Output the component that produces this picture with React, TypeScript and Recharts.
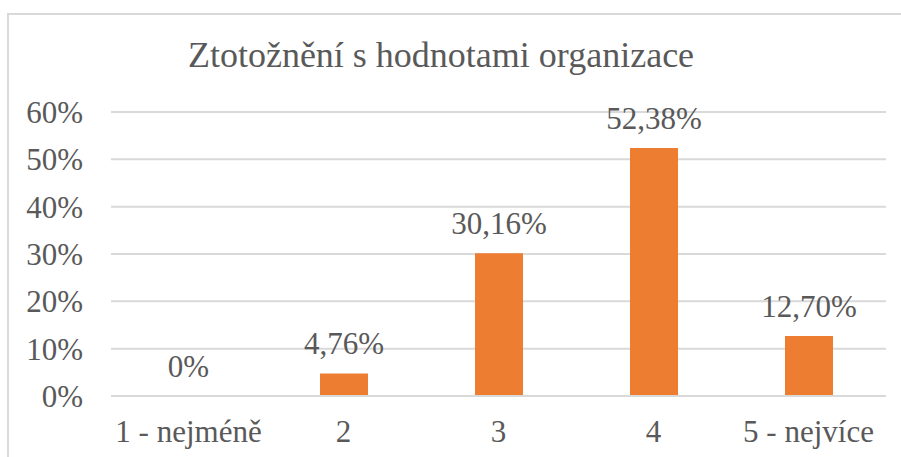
import { Bar, BarChart, CartesianGrid, LabelList, ReferenceDot, XAxis, YAxis } from 'recharts'

// kategorie a hodnoty (v %)
const categories = ['1 - nejméně', '2', '3', '4', '5 - nejvíce']
const shares = [0, 4.76, 30.16, 52.38, 12.7]
const yTicks = [0, 10, 20, 30, 40, 50, 60]

const TITLE = 'Ztotožnění s hodnotami organizace'
const ORANGE = '#ED7D31'
const GRID = '#D9D9D9'
const INK = '#595959'
const FONT = "'Liberation Serif', 'DejaVu Serif', 'Noto Serif', 'Noto Serif CJK SC', 'FreeSerif', Tinos, serif"

const chartData = categories.map((name, i) => ({ name, value: shares[i] }))

const fmtLabel = (v: number) => {
  if (v === 0) return '0%'
  return `${v.toFixed(2).replace('.', ',')}%`
}

const labelStyle = { fill: INK, fontSize: 31, fontFamily: FONT }

export default function App() {
  return (
    <div style={{ position: 'absolute', left: 0, top: 0, width: 901, height: 457, background: '#fff', overflow: 'hidden', fontFamily: FONT }}>
      {/* rámeček grafu */}
      <div
        style={{
          position: 'absolute',
          left: 7,
          top: 13,
          width: 920,
          height: 480,
          border: `2px solid ${GRID}`,
          boxSizing: 'border-box',
        }}
      />
      <svg width={901} height={100} style={{ position: 'absolute', left: 0, top: 0 }}>
        <text x={441} y={67} textAnchor="middle" style={{ fontFamily: FONT, fontSize: 36, fill: INK }}>
          {TITLE}
        </text>
      </svg>
      <div style={{ position: 'absolute', left: 0, top: 0 }}>
        <BarChart
          width={901}
          height={457}
          data={chartData}
          margin={{ top: 112, right: 15, left: 0, bottom: 0 }}
          barSize={48}
        >
          <CartesianGrid vertical={false} stroke={GRID} strokeWidth={2} />
          <XAxis
            dataKey="name"
            height={61}
            tickSize={0}
            tickMargin={24}
            axisLine={{ stroke: GRID, strokeWidth: 2 }}
            tickLine={false}
            tick={labelStyle}
            interval={0}
          />
          <YAxis
            domain={[0, 60]}
            ticks={yTicks}
            width={111}
            tickSize={0}
            tickMargin={28}
            axisLine={false}
            tickLine={false}
            tickFormatter={(v: number) => `${v}%`}
            tick={labelStyle}
          />
          <Bar dataKey="value" fill={ORANGE} isAnimationActive={false}>
            <LabelList
              dataKey="value"
              position="top"
              offset={19}
              formatter={(v: any) => fmtLabel(Number(v))}
              style={labelStyle}
            />
          </Bar>
          {/* nulový sloupec nemá obdélník, popisek doplníme zvlášť */}
          {chartData
            .filter((d) => d.value === 0)
            .map((d) => (
              <ReferenceDot
                key={d.name}
                x={d.name}
                y={d.value}
                r={0}
                fill="none"
                stroke="none"
                label={{ value: fmtLabel(d.value), position: 'top', offset: 19, ...labelStyle }}
              />
            ))}
        </BarChart>
      </div>
    </div>
  )
}
